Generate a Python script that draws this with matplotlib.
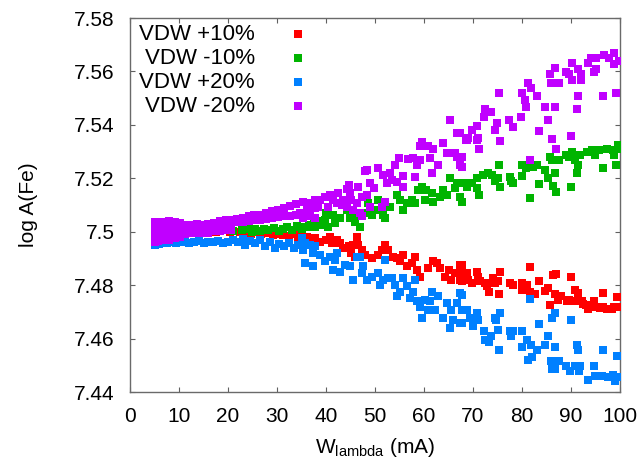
import matplotlib
matplotlib.use('Agg')
import matplotlib.pyplot as plt

plt.rcParams['font.family'] = ['Liberation Sans', 'DejaVu Sans']
plt.rcParams['mathtext.fontset'] = 'custom'
plt.rcParams['mathtext.rm'] = 'Liberation Sans'

labels = ['VDW +10%', 'VDW -10%', 'VDW +20%', 'VDW -20%']
colors = ['#ff0000', '#00b400', '#0080ff', '#c000ff']

xticks = [0, 10, 20, 30, 40, 50, 60, 70, 80, 90, 100]
yticks = [7.44, 7.46, 7.48, 7.50, 7.52, 7.54, 7.56, 7.58]
ytick_labels = ['7.44', '7.46', '7.48', '7.5', '7.52', '7.54', '7.56', '7.58']

# (W_lambda, log A) pairs for each line list
vdw_p10 = [
    (5.5, 7.4999), (8.5, 7.5001), (11.5, 7.4998), (14.5, 7.5000), (17.5, 7.4999), (20.5, 7.4998),
    (22.5, 7.5000), (23.5, 7.4996), (24.6, 7.4992), (25.7, 7.4998), (26.8, 7.4990), (28.0, 7.4994),
    (29.1, 7.4986), (30.2, 7.4993), (31.3, 7.4988), (32.4, 7.4984), (33.6, 7.4990), (34.2, 7.4980),
    (35.0, 7.4988), (36.1, 7.4982), (37.8, 7.4976), (38.8, 7.4963), (40.1, 7.4970), (40.8, 7.4982),
    (42.2, 7.4970), (41.2, 7.4957), (42.9, 7.4957), (43.5, 7.4938), (44.6, 7.4945), (45.6, 7.4951),
    (46.3, 7.4982), (46.6, 7.4951), (47.3, 7.4932), (45.2, 7.4920), (45.9, 7.4907), (48.0, 7.4913),
    (49.3, 7.4901), (50.7, 7.4913), (51.4, 7.4932), (52.0, 7.4951), (52.7, 7.4932), (53.7, 7.4907),
    (54.4, 7.4901), (55.1, 7.4889), (55.8, 7.4913), (56.5, 7.4870), (58.2, 7.4907), (57.5, 7.4882),
    (58.5, 7.4857), (59.2, 7.4832), (60.9, 7.4864), (61.9, 7.4889), (62.6, 7.4882), (63.3, 7.4864),
    (64.3, 7.4832), (65.0, 7.4857), (65.6, 7.4820), (66.3, 7.4845), (67.3, 7.4876), (67.3, 7.4820),
    (68.4, 7.4845), (69.0, 7.4820),
    (67.7, 7.4876), (67.7, 7.4845), (67.7, 7.4816), (68.7, 7.4847), (69.7, 7.4808), (70.8, 7.4849),
    (71.1, 7.4832), (71.4, 7.4814), (72.4, 7.4808), (72.8, 7.4795), (73.3, 7.4776), (74.1, 7.4827),
    (74.5, 7.4808), (75.2, 7.4814), (75.5, 7.4849), (75.4, 7.4768), (77.6, 7.4808), (78.2, 7.4801),
    (79.9, 7.4808), (80.1, 7.4780), (81.0, 7.4801), (81.6, 7.4868), (81.6, 7.4776), (82.7, 7.4768),
    (83.5, 7.4816), (84.7, 7.4779), (85.4, 7.4789), (85.7, 7.4727), (86.4, 7.4839), (86.9, 7.4841),
    (86.7, 7.4768), (87.4, 7.4745), (89.1, 7.4739), (90.1, 7.4829), (90.8, 7.4780), (91.5, 7.4770),
    (91.8, 7.4739), (93.5, 7.4710), (94.6, 7.4739), (95.2, 7.4718), (96.6, 7.4770), (96.6, 7.4718),
    (98.3, 7.4710), (99.3, 7.4755), (99.7, 7.4718),
    (92.5, 7.4730), (93.0, 7.4725), (96.0, 7.4715), (97.3, 7.4712), (98.8, 7.4720), (100.0, 7.4720),
    (89.5, 7.4745), (90.5, 7.4740), (88.0, 7.4758), (92.2, 7.4742),
]

vdw_m10 = [
    (6.0, 7.5002), (9.0, 7.5000), (12.0, 7.5003), (15.0, 7.5001), (18.0, 7.5004), (21.0, 7.5003),
    (22.8, 7.5005), (23.9, 7.5012), (24.8, 7.5000), (25.6, 7.5010), (26.5, 7.5003), (27.4, 7.5012),
    (28.2, 7.5006), (29.3, 7.5014), (30.4, 7.5002), (31.2, 7.5010), (32.1, 7.5018), (33.0, 7.5008),
    (34.0, 7.5020), (35.2, 7.5012), (36.5, 7.5025), (37.5, 7.5030), (38.6, 7.5040), (39.2, 7.5024),
    (34.7, 7.5019), (36.1, 7.5019), (37.8, 7.5019), (39.8, 7.5044), (40.5, 7.5019), (41.8, 7.5032),
    (40.1, 7.5069), (41.5, 7.5063), (42.9, 7.5050), (44.2, 7.5082), (44.9, 7.5050), (45.9, 7.5038),
    (46.9, 7.5019), (46.6, 7.5063), (48.3, 7.5069), (48.6, 7.5106), (49.3, 7.5063), (50.7, 7.5119),
    (50.7, 7.5082), (51.7, 7.5063), (52.0, 7.5050), (53.1, 7.5094), (54.4, 7.5138), (55.1, 7.5119),
    (55.8, 7.5082), (56.5, 7.5106), (57.5, 7.5119), (58.2, 7.5106), (58.8, 7.5156), (59.5, 7.5169),
    (60.5, 7.5156), (60.2, 7.5119), (61.6, 7.5144), (61.9, 7.5113), (63.3, 7.5131), (63.9, 7.5156),
    (64.6, 7.5138), (65.3, 7.5200), (66.3, 7.5163), (66.7, 7.5181), (67.3, 7.5131), (67.7, 7.5113),
    (68.7, 7.5169), (69.0, 7.5181),
    (67.3, 7.5181), (69.7, 7.5181), (70.8, 7.5200), (70.9, 7.5163), (71.3, 7.5138), (72.1, 7.5213),
    (73.1, 7.5219), (73.8, 7.5213), (74.5, 7.5188), (75.0, 7.5200), (75.4, 7.5250), (75.6, 7.5169),
    (77.5, 7.5206), (77.7, 7.5188), (78.2, 7.5181), (79.9, 7.5250), (79.9, 7.5210), (80.9, 7.5238),
    (81.6, 7.5125), (81.6, 7.5262), (82.3, 7.5244), (83.0, 7.5250), (83.5, 7.5179), (84.7, 7.5231),
    (85.4, 7.5200), (85.8, 7.5281), (86.1, 7.5269), (86.3, 7.5171), (86.7, 7.5219), (86.9, 7.5148),
    (87.6, 7.5269), (89.0, 7.5287), (89.5, 7.5281), (90.0, 7.5169), (90.3, 7.5300), (90.8, 7.5269),
    (91.2, 7.5219), (91.5, 7.5250), (91.8, 7.5287), (93.3, 7.5300), (94.2, 7.5306), (94.9, 7.5287),
    (95.8, 7.5306), (96.6, 7.5238), (97.3, 7.5309), (98.6, 7.5306), (98.8, 7.5287), (99.2, 7.5250),
    (99.5, 7.5325), (99.9, 7.5309),
]

vdw_p20 = [
    (5.0, 7.4950), (5.0, 7.4972), (5.9, 7.4955), (6.8, 7.4960), (7.6, 7.4958), (8.5, 7.4962),
    (9.4, 7.4958), (10.3, 7.4960), (11.2, 7.4963), (12.1, 7.4956), (13.0, 7.4961), (14.0, 7.4965),
    (15.0, 7.4958), (16.0, 7.4963), (17.0, 7.4960), (18.0, 7.4966), (19.0, 7.4957), (20.0, 7.4962),
    (21.0, 7.4968), (22.0, 7.4960), (23.0, 7.4972), (23.5, 7.4952), (24.5, 7.4965), (25.5, 7.4958),
    (26.5, 7.4970), (27.5, 7.4948), (28.5, 7.4962), (29.5, 7.4940), (30.5, 7.4955), (31.5, 7.4945),
    (32.5, 7.4958), (33.5, 7.4938), (34.2, 7.4950),
    (35.0, 7.4976), (35.7, 7.4957), (35.4, 7.4932), (36.7, 7.4951), (37.8, 7.4945), (37.4, 7.4920),
    (35.7, 7.4882), (37.4, 7.4870), (38.8, 7.4913), (39.8, 7.4889), (40.8, 7.4907), (41.8, 7.4895),
    (42.2, 7.4920), (41.5, 7.4857), (42.9, 7.4851), (43.9, 7.4876), (44.9, 7.4870), (45.6, 7.4820),
    (46.3, 7.4907), (46.9, 7.4907), (47.3, 7.4845), (47.6, 7.4870), (48.3, 7.4820), (49.3, 7.4832),
    (50.7, 7.4845), (51.0, 7.4801), (51.7, 7.4820), (52.0, 7.4895), (52.7, 7.4826), (53.4, 7.4826),
    (54.1, 7.4801), (54.4, 7.4758), (55.1, 7.4776), (55.8, 7.4826), (56.5, 7.4795), (57.1, 7.4751),
    (57.8, 7.4776), (58.2, 7.4820), (58.5, 7.4739), (59.2, 7.4720), (59.5, 7.4677), (60.2, 7.4745),
    (60.9, 7.4708), (61.6, 7.4776), (61.2, 7.4739), (62.2, 7.4708), (62.9, 7.4758), (63.9, 7.4677),
    (64.6, 7.4733), (65.3, 7.4639), (65.6, 7.4708), (66.0, 7.4670), (66.7, 7.4733), (67.3, 7.4770),
    (67.3, 7.4658), (68.4, 7.4708),
    (67.7, 7.4764), (67.7, 7.4708), (67.7, 7.4658), (68.7, 7.4708), (69.3, 7.4677), (69.9, 7.4646),
    (70.9, 7.4696), (71.1, 7.4671), (72.2, 7.4627), (72.5, 7.4596), (73.3, 7.4586), (73.6, 7.4609),
    (74.5, 7.4677), (74.7, 7.4671), (75.0, 7.4633), (75.4, 7.4559), (75.6, 7.4696), (77.5, 7.4627),
    (77.7, 7.4609), (78.2, 7.4627), (79.9, 7.4627), (79.9, 7.4569), (81.0, 7.4596), (81.3, 7.4521),
    (81.8, 7.4577), (82.0, 7.4531), (83.0, 7.4559), (83.5, 7.4656), (84.7, 7.4577), (85.4, 7.4609),
    (86.1, 7.4677), (85.9, 7.4515), (86.7, 7.4696), (86.7, 7.4569), (86.1, 7.4486), (86.7, 7.4486),
    (87.6, 7.4515), (89.0, 7.4496), (90.0, 7.4668), (89.7, 7.4478), (90.8, 7.4496), (91.2, 7.4577),
    (91.5, 7.4559), (91.7, 7.4478), (91.8, 7.4496), (93.5, 7.4446), (94.6, 7.4496), (94.9, 7.4459),
    (96.6, 7.4559), (96.3, 7.4459), (97.6, 7.4456), (98.6, 7.4465), (98.9, 7.4440), (99.3, 7.4536),
    (99.9, 7.4456), (81.6, 7.4748),
]

vdw_m20 = [
    (5.0, 7.4962), (5.0, 7.4990), (5.0, 7.5015), (5.0, 7.5038),
    (5.8, 7.4966), (5.8, 7.4993), (5.8, 7.5020), (5.8, 7.5036),
    (6.9, 7.4968), (6.9, 7.4996), (6.9, 7.5012), (6.9, 7.5037),
    (8.0, 7.4970), (8.0, 7.4991), (8.0, 7.5018), (8.0, 7.5039),
    (9.1, 7.4975), (9.1, 7.4998), (9.1, 7.5021), (9.1, 7.5035),
    (10.2, 7.4981), (10.2, 7.5002), (10.2, 7.5016), (10.2, 7.5034),
    (11.3, 7.4990), (11.3, 7.5005), (11.3, 7.5027),
    (12.5, 7.4994), (12.5, 7.5008), (12.5, 7.5026),
    (13.7, 7.4995), (13.7, 7.5010), (13.7, 7.5028),
    (14.8, 7.4996), (14.8, 7.5012), (14.8, 7.5027),
    (16.0, 7.4997), (16.0, 7.5014), (16.0, 7.5030),
    (17.2, 7.5001), (17.2, 7.5016), (17.2, 7.5032),
    (18.4, 7.5004), (18.4, 7.5018), (18.4, 7.5041),
    (19.5, 7.5005), (19.5, 7.5020), (19.5, 7.5044),
    (20.6, 7.5008), (20.6, 7.5024), (20.6, 7.5045),
    (21.8, 7.5036), (21.8, 7.5046), (23.0, 7.5038), (23.0, 7.5052),
    (24.2, 7.5040), (24.2, 7.5058), (25.4, 7.5042), (25.4, 7.5063),
    (26.6, 7.5045), (26.6, 7.5064), (27.8, 7.5049), (27.8, 7.5070),
    (29.0, 7.5052), (29.0, 7.5076), (30.2, 7.5055), (30.2, 7.5082),
    (31.4, 7.5060), (31.4, 7.5088), (32.6, 7.5058), (32.6, 7.5095),
    (33.8, 7.5064), (33.8, 7.5102),
    (65.3, 7.5418), (66.7, 7.5368), (68.7, 7.5343), (59.5, 7.5337), (63.9, 7.5331), (61.9, 7.5308),
    (64.6, 7.5296), (66.3, 7.5293), (67.3, 7.5250), (61.6, 7.5221), (54.8, 7.5275), (54.1, 7.5250),
    (56.8, 7.5271), (57.8, 7.5275), (58.5, 7.5250), (59.2, 7.5269), (61.2, 7.5275), (62.9, 7.5250),
    (58.2, 7.5206), (55.8, 7.5209), (50.7, 7.5237), (48.3, 7.5231), (48.0, 7.5229), (51.7, 7.5212),
    (53.1, 7.5219), (53.4, 7.5194), (52.4, 7.5181), (54.4, 7.5187), (55.8, 7.5166), (49.0, 7.5181),
    (49.7, 7.5163), (46.6, 7.5169), (44.6, 7.5175), (44.2, 7.5159), (44.9, 7.5146), (42.5, 7.5146),
    (40.8, 7.5138), (39.8, 7.5131), (41.5, 7.5119), (43.5, 7.5119), (45.2, 7.5119), (46.3, 7.5106),
    (47.3, 7.5131), (48.3, 7.5138), (49.0, 7.5094), (51.4, 7.5094), (52.0, 7.5113), (47.3, 7.5057),
    (38.8, 7.5119), (37.8, 7.5119), (36.7, 7.5106), (35.4, 7.5113), (36.1, 7.5088), (37.8, 7.5088),
    (38.4, 7.5094), (40.5, 7.5094), (42.2, 7.5106), (43.2, 7.5100), (44.2, 7.5094), (45.6, 7.5082),
    (46.9, 7.5069), (36.7, 7.5057), (37.8, 7.5050), (35.4, 7.5050), (36.1, 7.5069), (34.7, 7.5069),
    (59.2, 7.5319), (60.9, 7.5319), (66.7, 7.5281),
    (67.3, 7.5368), (67.7, 7.5281), (67.7, 7.5244), (68.6, 7.5344), (69.0, 7.5350), (69.7, 7.5381),
    (70.8, 7.5344), (71.1, 7.5350), (71.3, 7.5309), (70.9, 7.5397), (72.2, 7.5428), (72.5, 7.5458),
    (73.6, 7.5447), (74.5, 7.5381), (74.8, 7.5408), (75.4, 7.5518), (75.5, 7.5340), (77.4, 7.5418),
    (78.2, 7.5391), (79.8, 7.5428), (79.9, 7.5518), (80.6, 7.5493), (80.9, 7.5468), (81.3, 7.5558),
    (81.8, 7.5539), (83.0, 7.5508), (83.5, 7.5378), (84.7, 7.5468), (85.4, 7.5418), (85.8, 7.5589),
    (85.9, 7.5558), (86.2, 7.5347), (86.7, 7.5612), (86.7, 7.5468), (86.9, 7.5309), (87.5, 7.5558),
    (89.0, 7.5599), (89.5, 7.5590), (90.0, 7.5358), (90.3, 7.5630), (90.3, 7.5568), (91.2, 7.5458),
    (91.5, 7.5508), (91.5, 7.5608), (92.0, 7.5568), (92.0, 7.5590), (93.4, 7.5630), (94.0, 7.5649),
    (94.6, 7.5599), (95.1, 7.5608), (95.2, 7.5649), (96.6, 7.5508), (96.8, 7.5661), (97.8, 7.5649),
    (98.8, 7.5668), (98.8, 7.5628), (99.2, 7.5518), (99.7, 7.5639), (81.6, 7.5269),
]

series = [vdw_p10, vdw_m10, vdw_p20, vdw_m20]

fig = plt.figure(figsize=(6.41, 4.67), dpi=100)
ax = fig.add_axes([130 / 641, 75 / 467, 490 / 641, 374 / 467])

for pts, c in zip(series, colors):
    xs = [p[0] for p in pts]
    ys = [p[1] for p in pts]
    ax.scatter(xs, ys, s=30, marker='s', color=c, linewidths=0, zorder=3)

# key in the upper left: right-aligned text, then a sample square
for i, (lab, c) in enumerate(zip(labels, colors)):
    yy = 0.957 - i * 0.0642
    ax.text(0.255, yy, lab, transform=ax.transAxes, ha='right', va='center', fontsize=16)
    ax.plot([0.343], [yy], 's', ms=5.3, mew=0, color=c, transform=ax.transAxes, zorder=4)

ax.set_xlim(0, 100)
ax.set_ylim(7.44, 7.58)
ax.set_xticks(xticks)
ax.set_yticks(yticks)
ax.set_yticklabels(ytick_labels)
ax.tick_params(direction='in', top=True, right=True, length=3.6, width=0.8,
               color='#606060', labelsize=15)
ax.tick_params(axis='y', pad=11)
ax.tick_params(axis='x', pad=11)
for sp in ax.spines.values():
    sp.set_color('#6a6a6a')
    sp.set_linewidth(1.0)

ax.set_xlabel(r'W$_{\mathregular{lambda}}$ (mA)', fontsize=15, labelpad=7)
ax.set_ylabel('log A(Fe)', fontsize=15, labelpad=26)

fig.savefig('out.png', dpi=100)
